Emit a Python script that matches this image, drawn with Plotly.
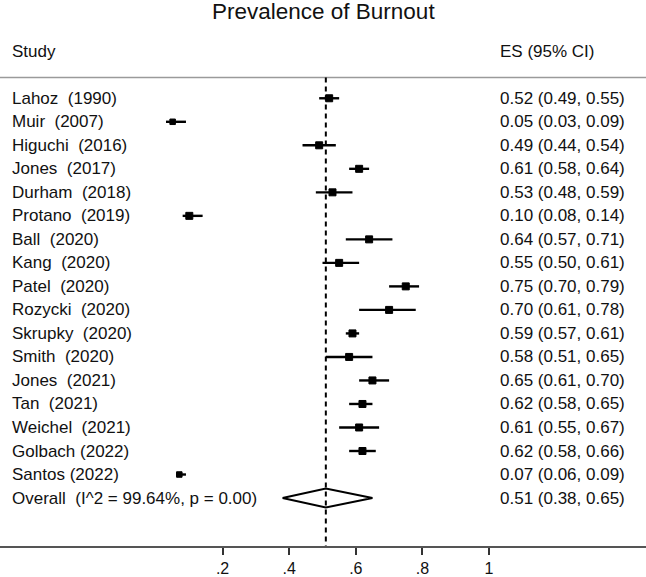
import plotly.graph_objects as go

# ---- data ----
studies = ["Lahoz  (1990)", "Muir  (2007)", "Higuchi  (2016)", "Jones  (2017)",
           "Durham  (2018)", "Protano  (2019)", "Ball  (2020)", "Kang  (2020)",
           "Patel  (2020)", "Rozycki  (2020)", "Skrupky  (2020)", "Smith  (2020)",
           "Jones  (2021)", "Tan  (2021)", "Weichel  (2021)", "Golbach (2022)",
           "Santos (2022)"]
es = [0.52, 0.05, 0.49, 0.61, 0.53, 0.10, 0.64, 0.55, 0.75, 0.70, 0.59, 0.58,
      0.65, 0.62, 0.61, 0.62, 0.07]
lo = [0.49, 0.03, 0.44, 0.58, 0.48, 0.08, 0.57, 0.50, 0.70, 0.61, 0.57, 0.51,
      0.61, 0.58, 0.55, 0.58, 0.06]
hi = [0.55, 0.09, 0.54, 0.64, 0.59, 0.14, 0.71, 0.61, 0.79, 0.78, 0.61, 0.65,
      0.70, 0.65, 0.67, 0.66, 0.09]
overall_label = "Overall  (I^2 = 99.64%, p = 0.00)"
overall_es, overall_lo, overall_hi = 0.51, 0.38, 0.65
tick_vals = [0.2, 0.4, 0.6, 0.8, 1.0]
tick_text = [".2", ".4", ".6", ".8", "1"]
title = "Prevalence of Burnout"

# ---- figure ----
W, H = 646, 577
FONT = "Liberation Sans, Arial, Helvetica, sans-serif"
rows = list(range(len(studies)))
ov_row = len(studies)

fig = go.Figure()

sizes = [5.5 if e < 0.08 else 7 for e in es]
fig.add_trace(go.Scatter(
    x=es, y=rows, mode="markers",
    marker=dict(symbol="square", size=sizes, color="black", opacity=1,
                line=dict(width=1, color="black")),
    error_x=dict(type="data", symmetric=False,
                 array=[h - e for h, e in zip(hi, es)],
                 arrayminus=[e - l for e, l in zip(es, lo)],
                 color="black", thickness=2.4, width=0),
    showlegend=False, hoverinfo="skip"))

dh = 0.4
fig.add_trace(go.Scatter(
    x=[overall_lo, overall_es, overall_hi, overall_es, overall_lo],
    y=[ov_row, ov_row - dh, ov_row, ov_row + dh, ov_row],
    mode="lines", line=dict(color="black", width=2),
    showlegend=False, hoverinfo="skip"))

y_top = -4.179
y_bot = 19.04

# header line and dashed overall line
fig.add_shape(type="line", xref="paper", yref="y", x0=0, x1=1, y0=-0.886, y1=-0.886,
              line=dict(color="#9a9a9a", width=1.5))
fig.add_shape(type="line", xref="x", yref="y", x0=overall_es, x1=overall_es,
              y0=-0.886, y1=y_bot, line=dict(color="black", width=2, dash="5px,4px"))

ann = []
tfont = dict(family=FONT, size=17, color="#111111")
for i, s in enumerate(studies + [overall_label]):
    ann.append(dict(x=10 / W, xref="paper", y=i, yref="y", text=s, showarrow=False,
                    xanchor="left", yanchor="middle", font=tfont))
for i, (e, l, h) in enumerate(zip(es + [overall_es], lo + [overall_lo], hi + [overall_hi])):
    ann.append(dict(x=498 / W, xref="paper", y=i, yref="y",
                    text=f"{e:.2f} ({l:.2f}, {h:.2f})", showarrow=False,
                    xanchor="left", yanchor="middle", font=tfont))
ann.append(dict(x=10 / W, xref="paper", y=-1.98, yref="y", text="Study", showarrow=False,
                xanchor="left", yanchor="middle", font=tfont))
ann.append(dict(x=498 / W, xref="paper", y=-1.98, yref="y", text="ES (95% CI)", showarrow=False,
                xanchor="left", yanchor="middle", font=tfont))
ann.append(dict(x=0.5, xref="paper", y=-3.71, yref="y", text=title, showarrow=False,
                xanchor="center", yanchor="middle",
                font=dict(family=FONT, size=22.5, color="#111111")))

fig.update_layout(
    width=W, height=H,
    margin=dict(l=0, r=0, t=0, b=H - 550),
    paper_bgcolor="white", plot_bgcolor="white",
    annotations=ann,
    xaxis=dict(range=[-156 / 333.0, 490 / 333.0], tickvals=tick_vals, ticktext=tick_text,
               showgrid=False, zeroline=False, showline=True, linecolor="#555555",
               linewidth=2, ticks="outside", ticklen=7, tickwidth=2, tickcolor="#333333",
               tickfont=dict(family=FONT, size=16, color="#111111"), fixedrange=True),
    yaxis=dict(range=[y_bot, y_top], showgrid=False, zeroline=False, showline=False,
               showticklabels=False, ticks="", fixedrange=True),
    font=dict(family=FONT),
)

fig.write_html("out.html", config={"displayModeBar": False},
               post_script="document.body.style.margin='0';document.body.style.overflow='hidden';")
